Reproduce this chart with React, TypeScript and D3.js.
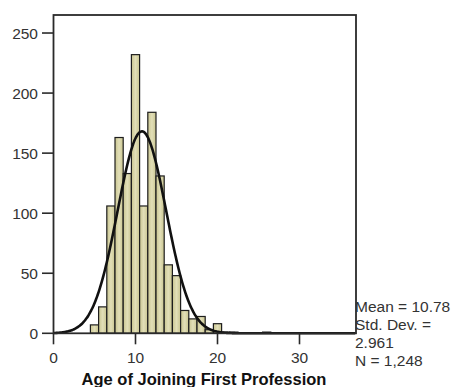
import React from "react";
import * as d3 from "d3";

// Histogram of age at joining first profession (bins of one year, centred on integers)
const binCenters = [5, 6, 7, 8, 9, 10, 11, 12, 13, 14, 15, 16, 17, 18, 19, 20, 21, 22, 26];
const counts = [7, 22, 106, 163, 133, 232, 106, 184, 131, 57, 48, 19, 12, 14, 3, 8, 1, 1, 1];

const xTicks = [0, 10, 20, 30];
const yTicks = [0, 50, 100, 150, 200, 250];

const mean = 10.78;
const stdDev = 2.961;
const n = 1248;
const statLines = ["Mean = 10.78", "Std. Dev. =", "2.961", "N = 1,248"];
const xTitle = "Age of Joining First Profession";

const W = 451;
const H = 387;
const plot = { left: 53.5, right: 356, top: 15, bottom: 333.3 };

export default function App() {
  const x = d3.scaleLinear().domain([0, 36.89]).range([plot.left, plot.right]);
  const y = d3.scaleLinear().domain([0, 265]).range([plot.bottom, plot.top]);

  const pdf = (v: number) =>
    (n / (stdDev * Math.sqrt(2 * Math.PI))) * Math.exp(-((v - mean) ** 2) / (2 * stdDev * stdDev));
  const curvePts = d3.range(0, 36.9, 0.1).map((v) => [v, pdf(v)] as [number, number]);
  const line = d3
    .line<[number, number]>()
    .x((d) => x(d[0]))
    .y((d) => y(d[1]))
    .curve(d3.curveBasis);

  const font = "'Liberation Sans', Arial, sans-serif";

  return (
    <svg
      width={W}
      height={H}
      style={{ position: "absolute", left: 0, top: 0, background: "#fff" }}
      fontFamily={font}
    >
      <defs>
        <linearGradient id="barFill" x1="0" x2="1" y1="0" y2="0">
          <stop offset="0" stopColor="#c9c590" />
          <stop offset="0.5" stopColor="#e2dfb8" />
          <stop offset="1" stopColor="#c9c590" />
        </linearGradient>
      </defs>

      {/* bars */}
      {binCenters.map((c, i) => (
        <rect
          key={c}
          x={x(c - 0.5)}
          y={y(counts[i])}
          width={x(c + 0.5) - x(c - 0.5)}
          height={y(0) - y(counts[i])}
          fill="url(#barFill)"
          stroke="#1e1e1e"
          strokeWidth={1.2}
        />
      ))}

      {/* fitted normal curve */}
      <path d={line(curvePts) || ""} fill="none" stroke="#111" strokeWidth={2.6} />

      {/* frame */}
      <rect
        x={plot.left}
        y={plot.top}
        width={plot.right - plot.left}
        height={plot.bottom - plot.top}
        fill="none"
        stroke="#2a2a2a"
        strokeWidth={1.8}
      />

      {/* y axis */}
      {yTicks.map((t) => (
        <g key={t}>
          <line x1={42} x2={plot.left} y1={y(t)} y2={y(t)} stroke="#2a2a2a" strokeWidth={1.6} />
          <text x={38} y={y(t)} dy="0.36em" textAnchor="end" fontSize={15.5} fill="#333">
            {t}
          </text>
        </g>
      ))}

      {/* x axis */}
      {xTicks.map((t) => (
        <g key={t}>
          <line x1={x(t)} x2={x(t)} y1={plot.bottom} y2={plot.bottom + 11} stroke="#2a2a2a" strokeWidth={1.6} />
          <text x={x(t)} y={363} textAnchor="middle" fontSize={15.5} fill="#333">
            {t}
          </text>
        </g>
      ))}
      <text x={204} y={385} textAnchor="middle" fontSize={16.5} fontWeight="bold" fill="#111">
        {xTitle}
      </text>

      {/* summary statistics */}
      {statLines.map((s, i) => (
        <text key={s} x={355} y={312 + i * 18} fontSize={15.5} fill="#333">
          {s}
        </text>
      ))}
    </svg>
  );
}
